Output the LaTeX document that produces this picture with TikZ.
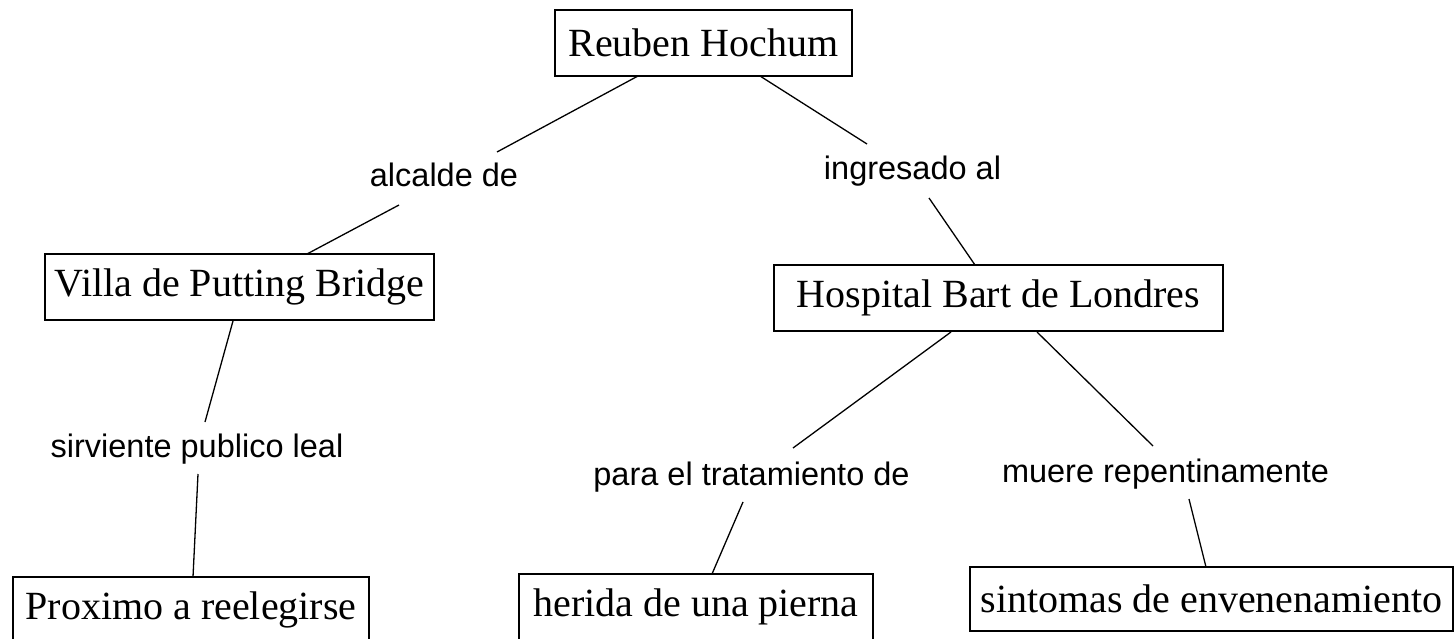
\documentclass[tikz,border=0pt]{standalone}
\usepackage{fontspec}
\setmainfont{Liberation Serif}
\newfontfamily\labfont{Liberation Sans}
\tikzset{
  box/.style={draw=black, line width=1.8pt, inner sep=0pt, font=\fontsize{40}{48}\selectfont},
  lab/.style={inner sep=0pt, anchor=base, font=\labfont\fontsize{32.5}{38}\selectfont},
  link/.style={draw=black, line width=1.3pt}
}
\begin{document}
\begin{tikzpicture}[x=1pt, y=-1pt]
\useasboundingbox[fill=white] (0,0) rectangle (1454,639);
% boxes
\node[box, minimum width=297pt, minimum height=66pt] (reuben) at (703.5,43) {Reuben Hochum};
\node[box, minimum width=389pt, minimum height=66pt] (villa) at (239.5,287) {Villa de Putting Bridge};
\node[box, minimum width=449pt, minimum height=66pt] (hosp) at (998.5,298) {Hospital Bart de Londres};
\node[box, minimum width=356pt, minimum height=66pt] (prox) at (191,610) {Proximo a reelegirse};
\node[box, minimum width=354pt, minimum height=66pt] (herida) at (696,607) {herida de una pierna};
\node[box, minimum width=483pt, minimum height=64pt] (sint) at (1211.5,599) {sintomas de envenenamiento};
% labels
\node[lab] (alc) at (444,187) {alcalde de};
\node[lab] (ingr) at (912.5,180) {ingresado al};
\node[lab] (sirv) at (197,457) {sirviente publico leal};
\node[lab] (para) at (751.5,485) {para el tratamiento de};
\node[lab] (muere) at (1165.5,482) {muere repentinamente};
% connectors
\draw[link] ([shift={(-65.5,33)}]reuben.center) -- ([shift={(53,-35)}]alc.base);
\draw[link] ([shift={(-45,18)}]alc.base) -- ([shift={(67.5,-33)}]villa.center);
\draw[link] ([shift={(56.5,33)}]reuben.center) -- ([shift={(-45.5,-36)}]ingr.base);
\draw[link] ([shift={(16.5,18)}]ingr.base) -- ([shift={(-23.5,-33)}]hosp.center);
\draw[link] ([shift={(-6.5,34)}]villa.center) -- ([shift={(8,-35)}]sirv.base);
\draw[link] ([shift={(1,17)}]sirv.base) -- ([shift={(2,-33)}]prox.center);
\draw[link] ([shift={(-47.5,34)}]hosp.center) -- ([shift={(41.5,-37)}]para.base);
\draw[link] ([shift={(-8.5,17)}]para.base) -- ([shift={(16,-33)}]herida.center);
\draw[link] ([shift={(38.5,34)}]hosp.center) -- ([shift={(-12.5,-36)}]muere.base);
\draw[link] ([shift={(23.5,17)}]muere.base) -- ([shift={(-5.5,-32)}]sint.center);
\end{tikzpicture}
\end{document}
